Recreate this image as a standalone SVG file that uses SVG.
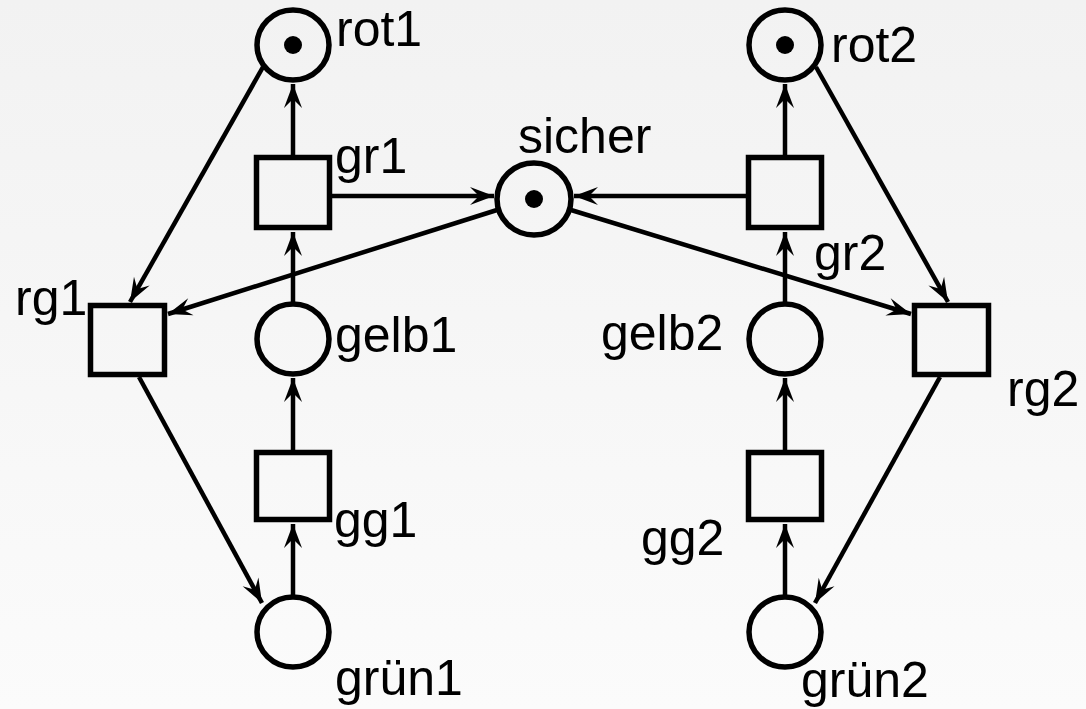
<svg xmlns="http://www.w3.org/2000/svg" width="1086" height="709" viewBox="0 0 1086 709">
<defs>
<linearGradient id="bg" x1="0" y1="0" x2="0" y2="1">
<stop offset="0" stop-color="#f2f2f2"/>
<stop offset="1" stop-color="#fbfbfb"/>
</linearGradient>
<marker id="arr" markerUnits="userSpaceOnUse" markerWidth="32" markerHeight="26" viewBox="-26 -13 28 26" refX="0" refY="0" orient="auto">
<path d="M0,0 L-24,-9 L-15,0 L-24,9 Z" fill="#000"/>
</marker>
<style>
.pl{fill:none;stroke:#000;stroke-width:5.5}
.tr{fill:none;stroke:#000;stroke-width:5.5}
.tok{fill:#000}
.lbl{font-family:"Liberation Sans",Arial,sans-serif;font-size:50px;fill:#000}
.e{stroke:#000;stroke-width:4.5;fill:none;marker-end:url(#arr)}
</style>
</defs>
<rect width="1086" height="709" fill="url(#bg)"/>
<g id="connectors">
<line class="e" x1="293" y1="155" x2="293" y2="84"/>
<line class="e" x1="293" y1="302" x2="293" y2="232"/>
<line class="e" x1="293" y1="450" x2="293" y2="378"/>
<line class="e" x1="293" y1="597" x2="293" y2="524"/>
<line class="e" x1="785" y1="155" x2="785" y2="84"/>
<line class="e" x1="785" y1="302" x2="785" y2="232"/>
<line class="e" x1="785" y1="450" x2="785" y2="378"/>
<line class="e" x1="785" y1="597" x2="785" y2="524"/>
<line class="e" x1="332" y1="196" x2="494" y2="196"/>
<line class="e" x1="748" y1="196" x2="574" y2="196"/>
<line class="e" x1="497" y1="210" x2="168" y2="314"/>
<line class="e" x1="571" y1="210" x2="911" y2="314"/>
<line class="e" x1="263" y1="67" x2="130" y2="302"/>
<line class="e" x1="816" y1="67" x2="948" y2="302"/>
<line class="e" x1="139" y1="377" x2="262" y2="603"/>
<line class="e" x1="940" y1="377" x2="815" y2="603"/>
</g>
<g id="rot1"><ellipse class="pl" cx="293" cy="45" rx="36" ry="35"/><circle class="tok" cx="293" cy="45" r="9"/><text class="lbl" x="336" y="46">rot1</text></g>
<g id="rot2"><ellipse class="pl" cx="785" cy="45" rx="36" ry="35"/><circle class="tok" cx="785" cy="45" r="9"/><text class="lbl" x="831" y="62">rot2</text></g>
<g id="sicher"><ellipse class="pl" cx="534" cy="199" rx="37" ry="36"/><circle class="tok" cx="534" cy="199" r="9"/><text class="lbl" x="518" y="153">sicher</text></g>
<g id="gr1"><rect class="tr" x="256.5" y="157.5" width="73" height="70"/><text class="lbl" x="335" y="173">gr1</text></g>
<g id="gr2"><rect class="tr" x="748.5" y="157.5" width="73" height="70"/><text class="lbl" x="814" y="270">gr2</text></g>
<g id="rg1"><rect class="tr" x="90.5" y="305.5" width="74" height="69"/><text class="lbl" x="15" y="315">rg1</text></g>
<g id="rg2"><rect class="tr" x="914.5" y="305.5" width="74" height="69"/><text class="lbl" x="1007" y="406">rg2</text></g>
<g id="gelb1"><ellipse class="pl" cx="293" cy="339" rx="36" ry="35"/><text class="lbl" x="335" y="352">gelb1</text></g>
<g id="gelb2"><ellipse class="pl" cx="785" cy="339" rx="36" ry="35"/><text class="lbl" x="601" y="350">gelb2</text></g>
<g id="gg1"><rect class="tr" x="256.5" y="452.5" width="73" height="67"/><text class="lbl" x="334" y="537">gg1</text></g>
<g id="gg2"><rect class="tr" x="748.5" y="452.5" width="73" height="67"/><text class="lbl" x="641" y="555">gg2</text></g>
<g id="gruen1"><ellipse class="pl" cx="293" cy="632" rx="36" ry="35"/><text class="lbl" x="335" y="695">grün1</text></g>
<g id="gruen2"><ellipse class="pl" cx="785" cy="632" rx="36" ry="35"/><text class="lbl" x="801" y="697">grün2</text></g>
</svg>
